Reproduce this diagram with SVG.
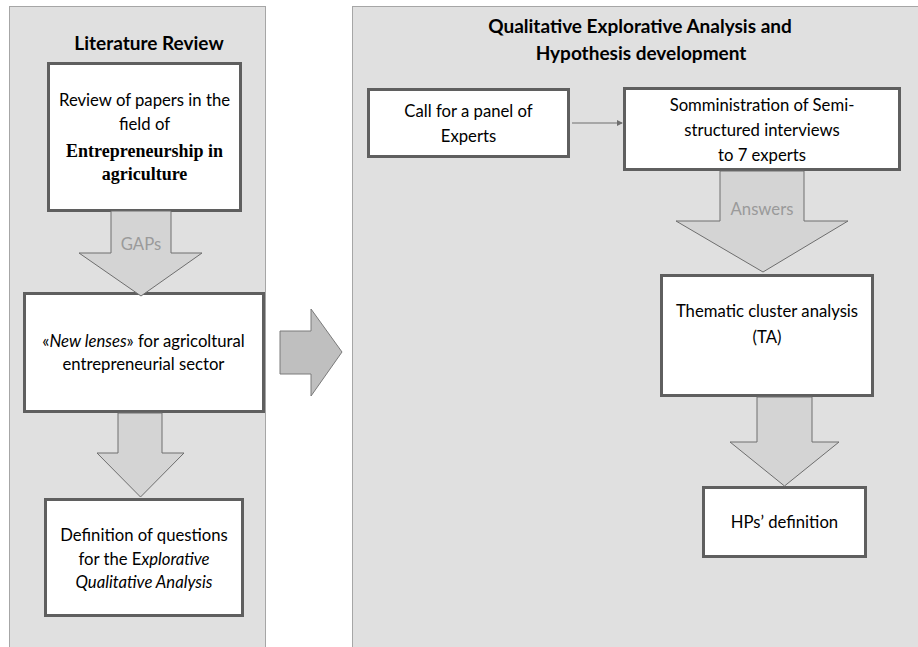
<svg xmlns="http://www.w3.org/2000/svg" width="918" height="647" viewBox="0 0 918 647">
  <defs>
    <style>
      .panel { fill: #e0e0e0; stroke: #a6a6a6; stroke-width: 1; }
      .box { fill: #ffffff; stroke: #5f5f5f; stroke-width: 3; }
      .block { fill: #d4d4d4; stroke: #6e6e6e; stroke-width: 1; }
      .big { fill: #bfbfbf; stroke: #7a7a7a; stroke-width: 1; }
      .conn { stroke: #6e6e6e; stroke-width: 1.2; fill: none; }
      text { font-family: Lato, "Open Sans", "Liberation Sans", sans-serif; font-size: 16.7px; fill: #000000; text-anchor: middle; }
      .title { font-weight: bold; font-size: 19px; }
      .serif { font-family: "Liberation Serif", "Times New Roman", serif; font-weight: bold; font-size: 18px; }
      .lbl { fill: #9a9a9a; }
      .it { font-style: italic; }
    </style>
    <marker id="head" markerWidth="6" markerHeight="6" refX="5" refY="3" orient="auto" markerUnits="userSpaceOnUse">
      <path d="M0,0 L6,3 L0,6 Z" fill="#6e6e6e"/>
    </marker>
  </defs>

  <!-- panels -->
  <g id="panel-literature">
    <rect class="panel" x="9.5" y="6.5" width="256" height="660"/>
    <text class="title" x="149" y="50">Literature Review</text>
  </g>
  <g id="panel-qualitative">
    <rect class="panel" x="352.5" y="6.5" width="580" height="660"/>
    <text class="title" x="640" y="33">Qualitative Explorative Analysis and</text>
    <text class="title" x="641" y="60">Hypothesis development</text>
  </g>

  <!-- transition arrow between the two phases -->
  <g id="phase-arrow">
    <polygon class="big" points="280,331 311,331 311,309 342,352 311,396 311,374 280,374"/>
  </g>

  <!-- left column nodes -->
  <g id="review-papers">
    <rect class="box" x="48.5" y="63.5" width="192" height="147"/>
    <text x="144.5" y="106">Review of papers in the</text>
    <text x="144.5" y="130">field of</text>
    <text class="serif" x="144.5" y="157">Entrepreneurship in</text>
    <text class="serif" x="144.5" y="180">agriculture</text>
  </g>
  <g id="new-lenses">
    <rect class="box" x="24.5" y="293.5" width="239" height="118"/>
    <text x="143.5" y="347">«<tspan class="it">New lenses</tspan>» for agricoltural</text>
    <text x="143.5" y="370">entrepreneurial sector</text>
  </g>
  <g id="questions">
    <rect class="box" x="45.5" y="499.5" width="197" height="116"/>
    <text x="144" y="541">Definition of questions</text>
    <text x="144" y="565">for the E<tspan class="it">xplorative</tspan></text>
    <text class="it" x="144" y="588">Qualitative Analysis</text>
  </g>

  <!-- right column nodes -->
  <g id="call-experts">
    <rect class="box" x="368.5" y="89.5" width="200" height="67"/>
    <text x="468.5" y="117">Call for a panel of</text>
    <text x="468.5" y="142">Experts</text>
  </g>
  <g id="interviews">
    <rect class="box" x="624.5" y="88.5" width="275" height="81"/>
    <text x="762" y="111">Somministration of Semi-</text>
    <text x="762" y="136">structured interviews</text>
    <text x="762" y="161">to 7 experts</text>
  </g>
  <g id="thematic">
    <rect class="box" x="661.5" y="275.5" width="211" height="120"/>
    <text x="767" y="317">Thematic cluster analysis</text>
    <text x="767" y="343">(TA)</text>
  </g>
  <g id="hps">
    <rect class="box" x="703.5" y="487.5" width="162" height="69"/>
    <text x="784.5" y="528">HPs’ definition</text>
  </g>

  <!-- connectors -->
  <g id="connectors">
    <polygon class="block" points="111,211 171,211 171,253 202,253 141,296 79,253 111,253"/>
    <text class="lbl" x="141" y="250">GAPs</text>
    <polygon class="block" points="118,413 162,413 162,453 184,453 140.5,497 97,453 118,453"/>
    <line class="conn" x1="572" y1="123" x2="622" y2="123" marker-end="url(#head)"/>
    <polygon class="block" points="720,171 804,171 804,221 848,221 763,272 676,221 720,221"/>
    <text class="lbl" x="762" y="215">Answers</text>
    <polygon class="block" points="757,397 812,397 812,442 839,442 784.5,486 730,442 757,442"/>
  </g>
</svg>
